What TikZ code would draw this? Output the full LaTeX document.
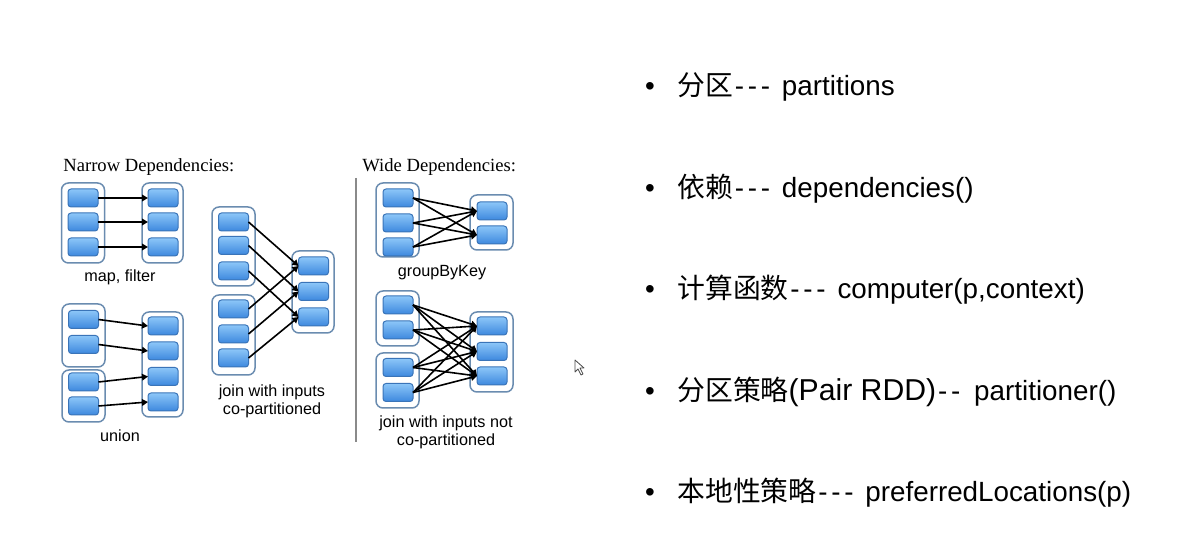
\documentclass[tikz,border=0pt]{standalone}
\usepackage{fontspec}
\setmainfont{Liberation Sans}
\newfontfamily\cjk{Noto Sans CJK SC}
\newfontfamily\tms{Liberation Serif}
\usetikzlibrary{arrows.meta}
\definecolor{contc}{HTML}{6A8CB0}
\definecolor{partedge}{HTML}{3A74B8}
\definecolor{parttop}{HTML}{8CC6F8}
\definecolor{partbot}{HTML}{3D88DE}
\definecolor{divc}{HTML}{8A8A8A}
% wide hyphen cell, as in the original slide font
\newcommand\hy{\makebox[6.5pt][c]{-}}
\newcommand\gap{\hspace*{5pt}}
\tikzset{
  cont/.style={draw=contc, line width=0.75pt, fill=white, rounded corners=3.5pt,
    minimum width=21.5pt, inner sep=0pt, outer sep=0pt},
  part/.style={draw=partedge, line width=0.5pt, top color=parttop, bottom color=partbot,
    rounded corners=1.5pt, minimum width=15pt, minimum height=9pt, inner sep=0pt, outer sep=0pt},
  arr/.style={line width=0.8pt, -{Triangle[length=3pt,width=3.3pt]}},
  lbl/.style={font=\fontsize{8.1}{9}\selectfont, align=center, inner sep=0pt},
  head/.style={font=\tms\fontsize{9.3}{11}\selectfont, anchor=west, inner sep=0pt},
  item/.style={font=\fontsize{13.9}{16}\selectfont, anchor=base west, inner sep=0pt},
  bul/.style={font=\fontsize{13.9}{16}\selectfont, anchor=base, inner sep=0pt}
}
\begin{document}
\begin{tikzpicture}[x=0.5pt,y=-0.5pt]
\useasboundingbox (0,0) rectangle (1179,539);
\fill[white] (0,0) rectangle (1179,539);

% headings
\node[head] (hn) at (63,167) {Narrow Dependencies:};
\node[head] (hw) at (362,167) {Wide Dependencies:};

% divider
\draw[divc, line width=1pt] (356,178) coordinate (d1) -- (356,442) coordinate (d2);

% ---------- map, filter ----------
\node[cont, minimum height=40pt] (mlc) at (83,223) {};
\node[cont, minimum width=20.5pt, minimum height=40pt] (mrc) at (162.5,223) {};
\foreach \i/\y in {1/198,2/222,3/247}{
  \node[part] (ml\i) at (83,\y) {};
  \node[part] (mr\i) at (163,\y) {};
}
\foreach \i in {1,2,3} \draw[arr] (ml\i.east) -- (mr\i.west);
\node[lbl] (lmap) at (120,277) {map, filter};

% ---------- union ----------
\node[cont, minimum height=31.5pt] (ulc1) at (83.5,335.5) {};
\node[cont, minimum height=26pt] (ulc2) at (83.5,396) {};
\node[cont, minimum width=20.5pt, minimum height=52.5pt] (urc) at (162.5,364.5) {};
\foreach \i/\y in {1/319.5,2/344.5,3/382,4/406}
  \node[part] (ul\i) at (83.5,\y) {};
\foreach \i/\y in {1/326,2/351,3/376.5,4/402}
  \node[part] (ur\i) at (163,\y) {};
\foreach \i in {1,...,4} \draw[arr] (ul\i.east) -- (ur\i.west);
\node[lbl] (lunion) at (120,436) {union};

% ---------- join co-partitioned ----------
\node[cont, minimum height=39.5pt] (jtc) at (233.5,246.5) {};
\node[cont, minimum height=40pt] (jbc) at (233.5,335) {};
\node[cont, minimum width=21pt, minimum height=41pt] (jrc) at (313,292) {};
\foreach \i/\y in {1/222,2/245.5,3/271}
  \node[part] (jt\i) at (233.5,\y) {};
\foreach \i/\y in {1/309,2/334,3/358}
  \node[part] (jb\i) at (233.5,\y) {};
\foreach \i/\y in {1/266,2/291.5,3/317}
  \node[part] (jr\i) at (313.5,\y) {};
\foreach \i in {1,2,3}{
  \draw[arr] (jt\i.east) -- (jr\i.west);
  \draw[arr] (jb\i.east) -- (jr\i.west);
}
\node[lbl] (ljoin) at (272,401) {join with inputs\\co-partitioned};

% ---------- groupByKey ----------
\node[cont, minimum height=37pt] (glc) at (397.5,220) {};
\node[cont, minimum height=27.5pt] (grc) at (491.5,222.5) {};
\foreach \i/\y in {1/198,2/223,3/247}
  \node[part] (gl\i) at (398,\y) {};
\foreach \i/\y in {1/211,2/235}
  \node[part] (gr\i) at (492,\y) {};
\foreach \i in {1,2,3}
  \foreach \j in {1,2}
    \draw[arr] (gl\i.east) -- (gr\j.west);
\node[lbl] (lgroup) at (442,273) {groupByKey};

% ---------- join not co-partitioned ----------
\node[cont, minimum height=27.5pt] (ntc) at (397.5,318.5) {};
\node[cont, minimum height=27.5pt] (nbc) at (397.5,380.5) {};
\node[cont, minimum height=40pt] (nrc) at (491.5,352) {};
\foreach \i/\y in {1/305,2/330,3/367.5,4/392.5}
  \node[part] (nl\i) at (398,\y) {};
\foreach \i/\y in {1/326,2/351.5,3/376}
  \node[part] (nr\i) at (492,\y) {};
\foreach \i in {1,...,4}
  \foreach \j in {1,2,3}
    \draw[arr] (nl\i.east) -- (nr\j.west);
\node[lbl] (lnot) at (446,432) {join with inputs not\\co-partitioned};

% ---------- cursor ----------
\draw[line width=0.4pt, draw=black!70, fill=white, line join=round]
  (575,360) -- (575,372) -- (578,369) -- (581,375) -- (583,374) -- (580,368) -- (584,368) -- cycle;

% ---------- bullet list ----------
\foreach \n/\y in {1/96,2/198,3/299,4/401,5/502}
  \node[bul] (b\n) at (650,\y) {\textbullet};
\node[item] (t1) at (677,96) {{\cjk 分区}\hy\hy\hy\gap partitions};
\node[item] (t2) at (677,198) {{\cjk 依赖}\hy\hy\hy\gap dependencies()};
\node[item] (t3) at (677,299) {{\cjk 计算函数}\hy\hy\hy\gap computer(p,context)};
\node[item] (t4) at (677,401) {{\cjk 分区策略}{\fontsize{15.1}{17}\selectfont (Pair RDD)}\hy\hy\hspace*{6pt}partitioner()};
\node[item] (t5) at (677,502) {{\cjk 本地性策略}\hy\hy\hy\gap preferredLocations(p)};
\end{tikzpicture}
\end{document}
